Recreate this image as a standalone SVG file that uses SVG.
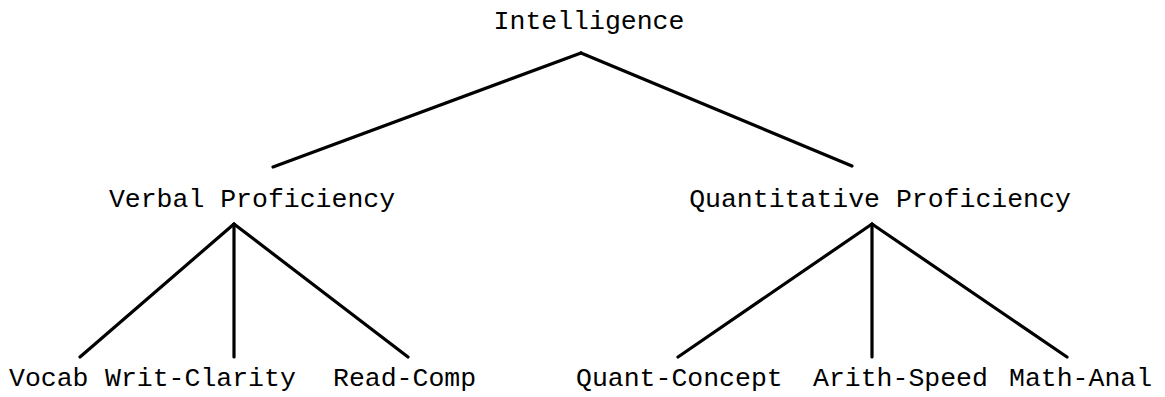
<svg xmlns="http://www.w3.org/2000/svg" width="1165" height="397" viewBox="0 0 1165 397">
<style>
text{font-family:"Liberation Mono","Courier New",monospace;font-size:26.5px;fill:#000}
.c line{stroke:#000;stroke-width:3.2;stroke-linecap:round}
</style>
<rect width="1165" height="397" fill="#fff"/>
<g class="c" id="connectors">
<line x1="581" y1="53" x2="273" y2="167"/>
<line x1="581" y1="53" x2="852" y2="166"/>
<line x1="234" y1="224" x2="80" y2="357"/>
<line x1="234" y1="224" x2="234" y2="357"/>
<line x1="234" y1="224" x2="408" y2="357"/>
<line x1="872" y1="224" x2="678" y2="357"/>
<line x1="872" y1="224" x2="872" y2="357"/>
<line x1="872" y1="224" x2="1067" y2="357"/>
</g>
<g id="n-intelligence"><text x="589" y="29" text-anchor="middle">Intelligence</text></g>
<g id="n-verbal"><text x="252" y="207" text-anchor="middle">Verbal Proficiency</text></g>
<g id="n-quant"><text x="880" y="207" text-anchor="middle">Quantitative Proficiency</text></g>
<g id="n-vocab"><text x="9" y="386">Vocab</text></g>
<g id="n-writ"><text x="105" y="386">Writ-Clarity</text></g>
<g id="n-read"><text x="333" y="386">Read-Comp</text></g>
<g id="n-qc"><text x="576" y="386">Quant-Concept</text></g>
<g id="n-as"><text x="813" y="386">Arith-Speed</text></g>
<g id="n-ma"><text x="1009" y="386">Math-Anal</text></g>
</svg>
